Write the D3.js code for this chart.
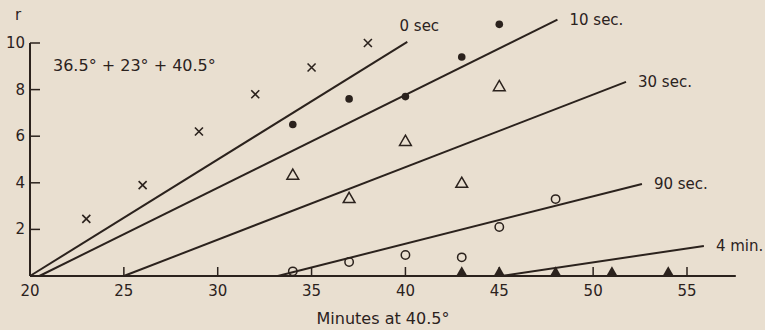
<!DOCTYPE html>
<html>
<head>
<meta charset="utf-8">
<script src="https://cdn.jsdelivr.net/npm/d3@7"></script>
<style>
  body { margin: 0; background: #e9dfd0; }
  svg { display: block; font-family: "DejaVu Sans", sans-serif; }
</style>
</head>
<body>
<div id="chart"></div>
<script>
// data
const xTicks = [20, 25, 30, 35, 40, 45, 50, 55];
const yTicks = [2, 4, 6, 8, 10];

const sec0 = [[23, 2.45], [26, 3.9], [29, 6.2], [32, 7.8], [35, 8.95], [38, 10.0]];
const sec10 = [[34, 6.5], [37, 7.6], [40, 7.7], [43, 9.4], [45, 10.8]];
const sec30 = [[34, 4.3], [37, 3.3], [40, 5.75], [43, 3.95], [45, 8.1]];
const sec90 = [[34, 0.2], [37, 0.6], [40, 0.9], [43, 0.8], [45, 2.1], [48, 3.3]];
const min4 = [[43, 0], [45, 0], [48, 0], [51, 0], [54, 0]];

// fitted lines: [x0, y0, x1, y1, label]
const fitLines = [
    [20, 0, 40.1, 10.05, "0 sec"],
    [20.5, 0, 48.1, 11.0, "10 sec."],
    [25, 0, 51.75, 8.33, "30 sec."],
    [33.2, 0, 52.6, 3.95, "90 sec."],
    [45.1, 0, 55.9, 1.29, "4 min."]
];

const ink = "#2b221d";
const W = 765, H = 330;

const svg = d3.select("#chart").append("svg")
    .attr("width", W)
    .attr("height", H);

const x = d3.scaleLinear().domain([20, 55]).range([30, 687]);
const y = d3.scaleLinear().domain([0, 10]).range([276, 43]);

// axes lines
svg.append("line")
    .attr("x1", x(20)).attr("x2", x(57.6))
    .attr("y1", y(0)).attr("y2", y(0))
    .attr("stroke", ink).attr("stroke-width", 2);
svg.append("line")
    .attr("x1", x(20)).attr("x2", x(20))
    .attr("y1", y(0)).attr("y2", y(10))
    .attr("stroke", ink).attr("stroke-width", 2);

// x ticks (pointing up)
svg.selectAll(".xt")
    .data(xTicks.slice(1))
    .enter().append("line")
    .attr("x1", d => x(d)).attr("x2", d => x(d))
    .attr("y1", y(0)).attr("y2", y(0) - 9)
    .attr("stroke", ink).attr("stroke-width", 1.5);
svg.selectAll(".xl")
    .data(xTicks)
    .enter().append("text")
    .attr("x", d => x(d))
    .attr("y", y(0) + 20)
    .attr("text-anchor", "middle")
    .attr("fill", ink)
    .style("font-size", "15px")
    .text(d => d);

// y ticks (pointing right)
svg.selectAll(".yt")
    .data(yTicks)
    .enter().append("line")
    .attr("x1", x(20)).attr("x2", x(20) + 10)
    .attr("y1", d => y(d)).attr("y2", d => y(d))
    .attr("stroke", ink).attr("stroke-width", 1.5);
svg.selectAll(".yl")
    .data(yTicks)
    .enter().append("text")
    .attr("x", x(20) - 5)
    .attr("y", d => y(d) + 5)
    .attr("text-anchor", "end")
    .attr("fill", ink)
    .style("font-size", "15px")
    .text(d => d);

svg.append("text")
    .attr("x", 15).attr("y", 20)
    .attr("fill", ink)
    .style("font-size", "15px")
    .text("r");

svg.append("text")
    .attr("x", 53).attr("y", 71)
    .attr("fill", ink)
    .style("font-size", "16px")
    .text("36.5° + 23° + 40.5°");

svg.append("text")
    .attr("x", 383).attr("y", 324)
    .attr("text-anchor", "middle")
    .attr("fill", ink)
    .style("font-size", "16px")
    .text("Minutes at 40.5°");

// fitted lines + labels
svg.selectAll(".fit")
    .data(fitLines)
    .enter().append("line")
    .attr("x1", d => x(d[0])).attr("y1", d => y(d[1]))
    .attr("x2", d => x(d[2])).attr("y2", d => y(d[3]))
    .attr("stroke", ink).attr("stroke-width", 2);
svg.selectAll(".fitl")
    .data(fitLines)
    .enter().append("text")
    .attr("x", d => x(d[2]) + 12)
    .attr("y", d => y(d[3]) + (d[4] == "0 sec" ? -11 : 5))
    .attr("text-anchor", d => d[4] == "0 sec" ? "middle" : "start")
    .attr("fill", ink)
    .style("font-size", "15px")
    .text(d => d[4]);

// markers
const crossPath = "M-4,-4L4,4M-4,4L4,-4";
svg.selectAll(".s0")
    .data(sec0)
    .enter().append("path")
    .attr("transform", d => `translate(${x(d[0])},${y(d[1])})`)
    .attr("d", crossPath)
    .attr("stroke", ink).attr("stroke-width", 1.6).attr("fill", "none");

svg.selectAll(".s10")
    .data(sec10)
    .enter().append("circle")
    .attr("cx", d => x(d[0])).attr("cy", d => y(d[1]))
    .attr("r", 3.8)
    .attr("fill", ink);

const tri = d3.symbol().type(d3.symbolTriangle).size(60);
svg.selectAll(".s30")
    .data(sec30)
    .enter().append("path")
    .attr("transform", d => `translate(${x(d[0])},${y(d[1])})`)
    .attr("d", tri)
    .attr("stroke", ink).attr("stroke-width", 1.5).attr("fill", "none");

svg.selectAll(".s90")
    .data(sec90)
    .enter().append("circle")
    .attr("cx", d => x(d[0])).attr("cy", d => y(d[1]))
    .attr("r", 4.2)
    .attr("stroke", ink).attr("stroke-width", 1.5).attr("fill", "none");

svg.selectAll(".m4")
    .data(min4)
    .enter().append("path")
    .attr("transform", d => `translate(${x(d[0])},${y(d[1]) - 3})`)
    .attr("d", d3.symbol().type(d3.symbolTriangle).size(60))
    .attr("fill", ink);
</script>
</body>
</html>
